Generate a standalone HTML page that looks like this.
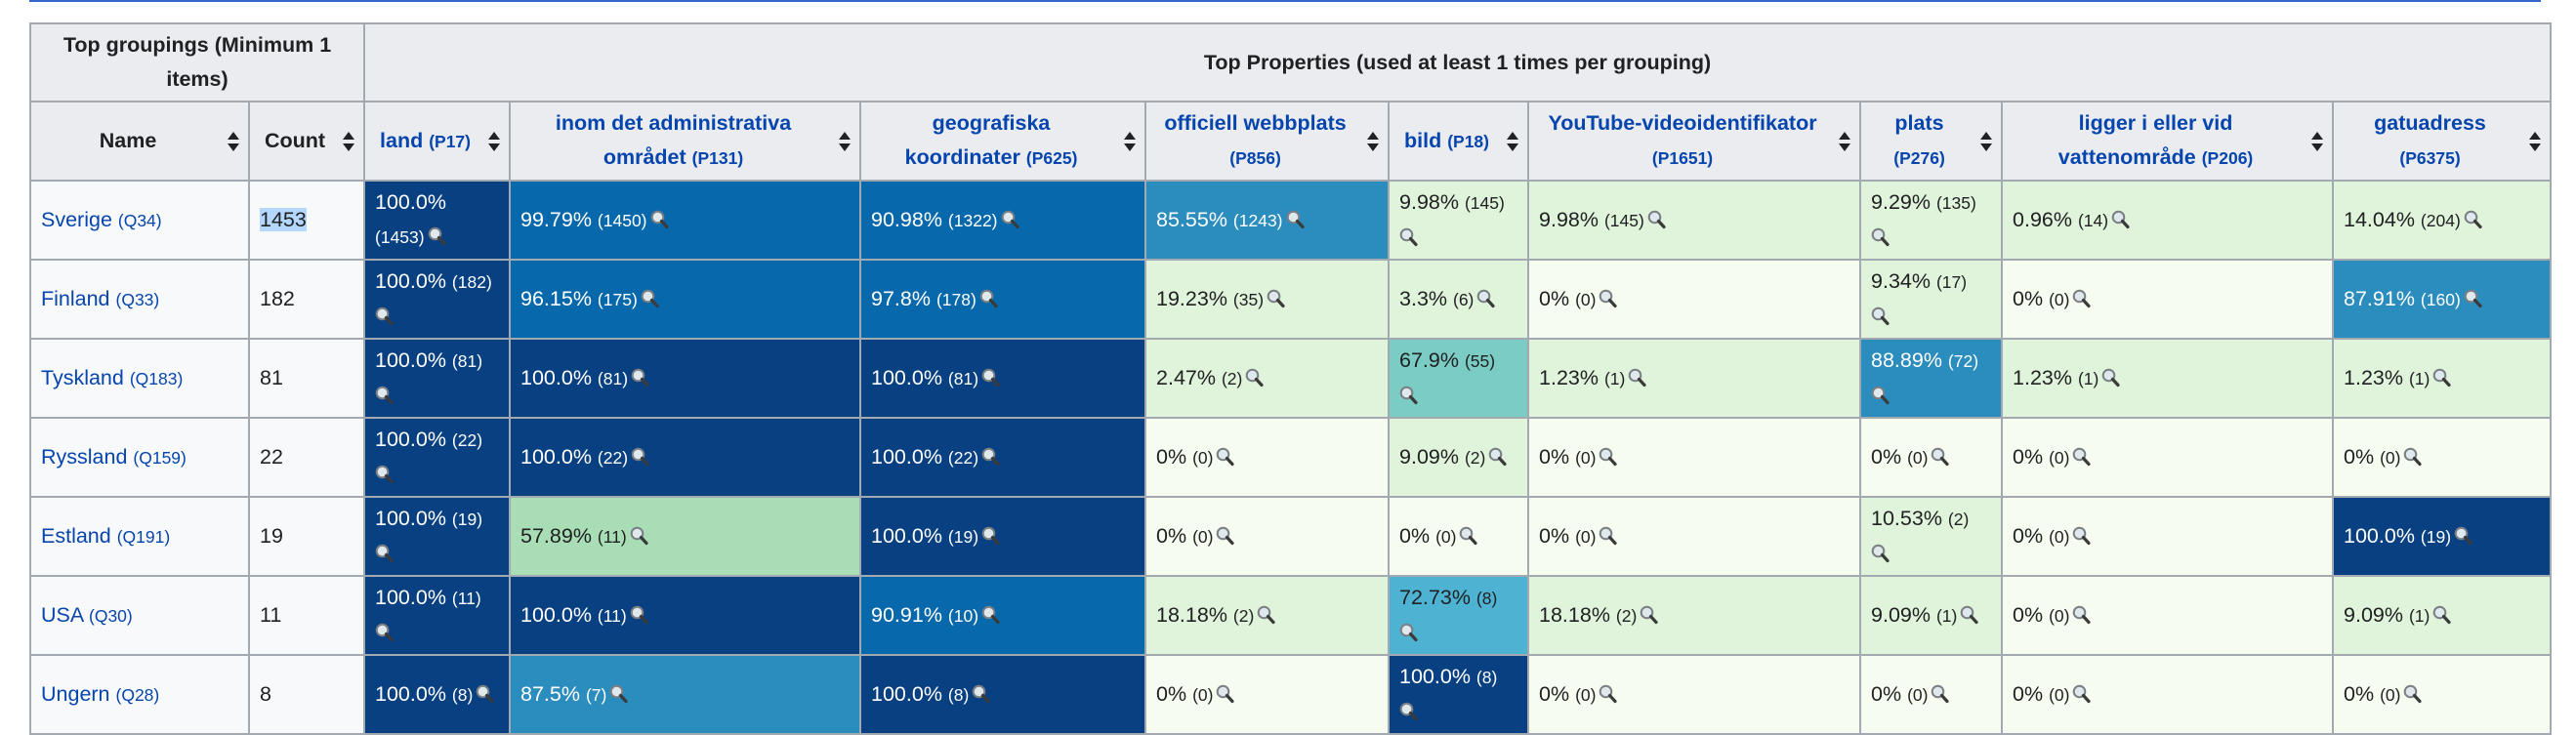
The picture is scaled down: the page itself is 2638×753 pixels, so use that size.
<!DOCTYPE html>
<html><head><meta charset="utf-8"><style>
body{margin:0;background:#fff;width:2638px;height:750px;overflow:hidden;font-family:"Liberation Sans",sans-serif;}
.topline{position:absolute;left:30px;top:0;width:2572px;height:2px;background:#3366cc;}
table{position:absolute;left:30px;top:23px;border-collapse:collapse;table-layout:fixed;width:2581px;font-size:21.5px;color:#202122;}
td,th{border:2px solid #a2a9b1;padding:0 10px;line-height:35px;vertical-align:middle;white-space:nowrap;overflow:hidden;}
th{background:#eaecf0;font-weight:bold;text-align:center;position:relative;}
th.s{padding-right:34px;}
.ar{position:absolute;right:9px;top:50%;margin-top:-10px;}
a{color:#0645ad;text-decoration:none;}
small{font-size:17.5px;}
td.n{background:#f8f9fa;}
.c0{background:#f7fcf0}.c1{background:#e0f3db}.c3{background:#a8ddb5}.c4{background:#7bccc4}.c5{background:#4eb3d3}.c6{background:#2b8cbe;color:#fff}.c7{background:#0868ac;color:#fff}.c8{background:#084081;color:#fff}
.sel{background:#b3d7ff;}
svg.m{vertical-align:-3px;margin-left:3px;}
</style></head><body>
<div class="topline"></div>
<svg width="0" height="0" style="position:absolute"><defs>
<g id="mg"><circle cx="7.5" cy="7.5" r="5.8" fill="#dfe8ec" stroke="#7a7f83" stroke-width="2"/><line x1="11.5" y1="11.5" x2="17" y2="17.5" stroke="#3a3a3a" stroke-width="3.2" stroke-linecap="round"/></g>
<g id="sa"><path d="M6 0 L12 8 L0 8Z M0 12 L12 12 L6 20Z" fill="#202122"/></g>
</defs></svg>
<table>
<colgroup><col style="width:224px"><col style="width:118px"><col style="width:149px"><col style="width:359px"><col style="width:292px"><col style="width:249px"><col style="width:143px"><col style="width:340px"><col style="width:145px"><col style="width:339px"><col style="width:223px"></colgroup>
<tr style="height:80px"><th colspan="2">Top groupings (Minimum 1<br>items)</th><th colspan="9">Top Properties (used at least 1 times per grouping)</th></tr>
<tr style="height:81px">
<th class="s">Name<svg class="ar" width="12" height="20"><use href="#sa"/></svg></th>
<th class="s">Count<svg class="ar" width="12" height="20"><use href="#sa"/></svg></th>
<th class="s"><a>land <small>(P17)</small></a><svg class="ar" width="12" height="20"><use href="#sa"/></svg></th>
<th class="s"><a>inom det administrativa<br>området <small>(P131)</small></a><svg class="ar" width="12" height="20"><use href="#sa"/></svg></th>
<th class="s"><a>geografiska<br>koordinater <small>(P625)</small></a><svg class="ar" width="12" height="20"><use href="#sa"/></svg></th>
<th class="s"><a>officiell webbplats<br><small>(P856)</small></a><svg class="ar" width="12" height="20"><use href="#sa"/></svg></th>
<th class="s"><a>bild <small>(P18)</small></a><svg class="ar" width="12" height="20"><use href="#sa"/></svg></th>
<th class="s"><a>YouTube-videoidentifikator<br><small>(P1651)</small></a><svg class="ar" width="12" height="20"><use href="#sa"/></svg></th>
<th class="s"><a>plats<br><small>(P276)</small></a><svg class="ar" width="12" height="20"><use href="#sa"/></svg></th>
<th class="s"><a>ligger i eller vid<br>vattenområde <small>(P206)</small></a><svg class="ar" width="12" height="20"><use href="#sa"/></svg></th>
<th class="s"><a>gatuadress<br><small>(P6375)</small></a><svg class="ar" width="12" height="20"><use href="#sa"/></svg></th>
</tr>
<tr style="height:81px"><td class="n"><a>Sverige <small>(Q34)</small></a></td><td class="n"><span class="sel">1453</span></td>
<td class="c8">100.0%<br><small>(1453)</small><svg class="m" width="20" height="20"><use href="#mg"/></svg></td>
<td class="c7">99.79% <small>(1450)</small><svg class="m" width="20" height="20"><use href="#mg"/></svg></td>
<td class="c7">90.98% <small>(1322)</small><svg class="m" width="20" height="20"><use href="#mg"/></svg></td>
<td class="c6">85.55% <small>(1243)</small><svg class="m" width="20" height="20"><use href="#mg"/></svg></td>
<td class="c1">9.98% <small>(145)</small><br><svg class="m" style="margin-left:0" width="20" height="20"><use href="#mg"/></svg></td>
<td class="c1">9.98% <small>(145)</small><svg class="m" width="20" height="20"><use href="#mg"/></svg></td>
<td class="c1">9.29% <small>(135)</small><br><svg class="m" style="margin-left:0" width="20" height="20"><use href="#mg"/></svg></td>
<td class="c1">0.96% <small>(14)</small><svg class="m" width="20" height="20"><use href="#mg"/></svg></td>
<td class="c1">14.04% <small>(204)</small><svg class="m" width="20" height="20"><use href="#mg"/></svg></td></tr>
<tr style="height:81px"><td class="n"><a>Finland <small>(Q33)</small></a></td><td class="n">182</td>
<td class="c8">100.0% <small>(182)</small><br><svg class="m" style="margin-left:0" width="20" height="20"><use href="#mg"/></svg></td>
<td class="c7">96.15% <small>(175)</small><svg class="m" width="20" height="20"><use href="#mg"/></svg></td>
<td class="c7">97.8% <small>(178)</small><svg class="m" width="20" height="20"><use href="#mg"/></svg></td>
<td class="c1">19.23% <small>(35)</small><svg class="m" width="20" height="20"><use href="#mg"/></svg></td>
<td class="c1">3.3% <small>(6)</small><svg class="m" width="20" height="20"><use href="#mg"/></svg></td>
<td class="c0">0% <small>(0)</small><svg class="m" width="20" height="20"><use href="#mg"/></svg></td>
<td class="c1">9.34% <small>(17)</small><br><svg class="m" style="margin-left:0" width="20" height="20"><use href="#mg"/></svg></td>
<td class="c0">0% <small>(0)</small><svg class="m" width="20" height="20"><use href="#mg"/></svg></td>
<td class="c6">87.91% <small>(160)</small><svg class="m" width="20" height="20"><use href="#mg"/></svg></td></tr>
<tr style="height:81px"><td class="n"><a>Tyskland <small>(Q183)</small></a></td><td class="n">81</td>
<td class="c8">100.0% <small>(81)</small><br><svg class="m" style="margin-left:0" width="20" height="20"><use href="#mg"/></svg></td>
<td class="c8">100.0% <small>(81)</small><svg class="m" width="20" height="20"><use href="#mg"/></svg></td>
<td class="c8">100.0% <small>(81)</small><svg class="m" width="20" height="20"><use href="#mg"/></svg></td>
<td class="c1">2.47% <small>(2)</small><svg class="m" width="20" height="20"><use href="#mg"/></svg></td>
<td class="c4">67.9% <small>(55)</small><br><svg class="m" style="margin-left:0" width="20" height="20"><use href="#mg"/></svg></td>
<td class="c1">1.23% <small>(1)</small><svg class="m" width="20" height="20"><use href="#mg"/></svg></td>
<td class="c6">88.89% <small>(72)</small><br><svg class="m" style="margin-left:0" width="20" height="20"><use href="#mg"/></svg></td>
<td class="c1">1.23% <small>(1)</small><svg class="m" width="20" height="20"><use href="#mg"/></svg></td>
<td class="c1">1.23% <small>(1)</small><svg class="m" width="20" height="20"><use href="#mg"/></svg></td></tr>
<tr style="height:81px"><td class="n"><a>Ryssland <small>(Q159)</small></a></td><td class="n">22</td>
<td class="c8">100.0% <small>(22)</small><br><svg class="m" style="margin-left:0" width="20" height="20"><use href="#mg"/></svg></td>
<td class="c8">100.0% <small>(22)</small><svg class="m" width="20" height="20"><use href="#mg"/></svg></td>
<td class="c8">100.0% <small>(22)</small><svg class="m" width="20" height="20"><use href="#mg"/></svg></td>
<td class="c0">0% <small>(0)</small><svg class="m" width="20" height="20"><use href="#mg"/></svg></td>
<td class="c1">9.09% <small>(2)</small><svg class="m" width="20" height="20"><use href="#mg"/></svg></td>
<td class="c0">0% <small>(0)</small><svg class="m" width="20" height="20"><use href="#mg"/></svg></td>
<td class="c0">0% <small>(0)</small><svg class="m" width="20" height="20"><use href="#mg"/></svg></td>
<td class="c0">0% <small>(0)</small><svg class="m" width="20" height="20"><use href="#mg"/></svg></td>
<td class="c0">0% <small>(0)</small><svg class="m" width="20" height="20"><use href="#mg"/></svg></td></tr>
<tr style="height:81px"><td class="n"><a>Estland <small>(Q191)</small></a></td><td class="n">19</td>
<td class="c8">100.0% <small>(19)</small><br><svg class="m" style="margin-left:0" width="20" height="20"><use href="#mg"/></svg></td>
<td class="c3">57.89% <small>(11)</small><svg class="m" width="20" height="20"><use href="#mg"/></svg></td>
<td class="c8">100.0% <small>(19)</small><svg class="m" width="20" height="20"><use href="#mg"/></svg></td>
<td class="c0">0% <small>(0)</small><svg class="m" width="20" height="20"><use href="#mg"/></svg></td>
<td class="c0">0% <small>(0)</small><svg class="m" width="20" height="20"><use href="#mg"/></svg></td>
<td class="c0">0% <small>(0)</small><svg class="m" width="20" height="20"><use href="#mg"/></svg></td>
<td class="c1">10.53% <small>(2)</small><br><svg class="m" style="margin-left:0" width="20" height="20"><use href="#mg"/></svg></td>
<td class="c0">0% <small>(0)</small><svg class="m" width="20" height="20"><use href="#mg"/></svg></td>
<td class="c8">100.0% <small>(19)</small><svg class="m" width="20" height="20"><use href="#mg"/></svg></td></tr>
<tr style="height:81px"><td class="n"><a>USA <small>(Q30)</small></a></td><td class="n">11</td>
<td class="c8">100.0% <small>(11)</small><br><svg class="m" style="margin-left:0" width="20" height="20"><use href="#mg"/></svg></td>
<td class="c8">100.0% <small>(11)</small><svg class="m" width="20" height="20"><use href="#mg"/></svg></td>
<td class="c7">90.91% <small>(10)</small><svg class="m" width="20" height="20"><use href="#mg"/></svg></td>
<td class="c1">18.18% <small>(2)</small><svg class="m" width="20" height="20"><use href="#mg"/></svg></td>
<td class="c5">72.73% <small>(8)</small><br><svg class="m" style="margin-left:0" width="20" height="20"><use href="#mg"/></svg></td>
<td class="c1">18.18% <small>(2)</small><svg class="m" width="20" height="20"><use href="#mg"/></svg></td>
<td class="c1">9.09% <small>(1)</small><svg class="m" width="20" height="20"><use href="#mg"/></svg></td>
<td class="c0">0% <small>(0)</small><svg class="m" width="20" height="20"><use href="#mg"/></svg></td>
<td class="c1">9.09% <small>(1)</small><svg class="m" width="20" height="20"><use href="#mg"/></svg></td></tr>
<tr style="height:81px"><td class="n"><a>Ungern <small>(Q28)</small></a></td><td class="n">8</td>
<td class="c8">100.0% <small>(8)</small><svg class="m" width="20" height="20"><use href="#mg"/></svg></td>
<td class="c6">87.5% <small>(7)</small><svg class="m" width="20" height="20"><use href="#mg"/></svg></td>
<td class="c8">100.0% <small>(8)</small><svg class="m" width="20" height="20"><use href="#mg"/></svg></td>
<td class="c0">0% <small>(0)</small><svg class="m" width="20" height="20"><use href="#mg"/></svg></td>
<td class="c8">100.0% <small>(8)</small><br><svg class="m" style="margin-left:0" width="20" height="20"><use href="#mg"/></svg></td>
<td class="c0">0% <small>(0)</small><svg class="m" width="20" height="20"><use href="#mg"/></svg></td>
<td class="c0">0% <small>(0)</small><svg class="m" width="20" height="20"><use href="#mg"/></svg></td>
<td class="c0">0% <small>(0)</small><svg class="m" width="20" height="20"><use href="#mg"/></svg></td>
<td class="c0">0% <small>(0)</small><svg class="m" width="20" height="20"><use href="#mg"/></svg></td></tr>
</table>
</body></html>
